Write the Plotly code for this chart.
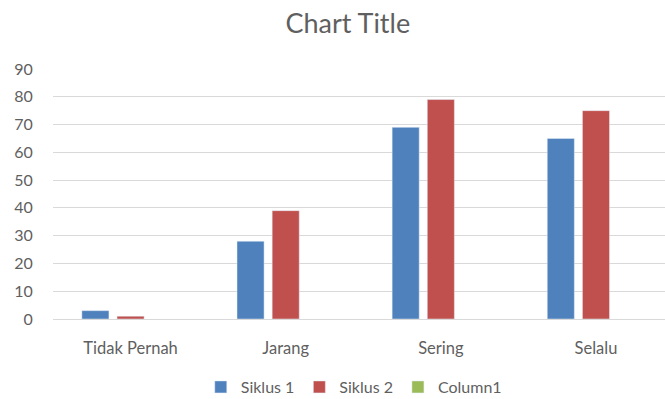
import plotly.graph_objects as go

categories = ["Tidak Pernah", "Jarang", "Sering", "Selalu"]
siklus1 = [3, 28, 69, 65]
siklus2 = [1, 39, 79, 75]
column1 = [None, None, None, None]
y_ticks = [0, 10, 20, 30, 40, 50, 60, 70, 80, 90]

font_family = "Lato, 'Open Sans', sans-serif"
fig = go.Figure()
fig.add_trace(go.Bar(x=categories, y=siklus1, name="Siklus 1", marker_color="#4F81BD"))
fig.add_trace(go.Bar(x=categories, y=siklus2, name="Siklus 2", marker_color="#C0504D"))
fig.add_trace(go.Bar(x=categories, y=column1, name="Column1", marker_color="#9BBB59"))

fig.update_layout(
    width=665, height=399,
    paper_bgcolor="white", plot_bgcolor="white",
    margin=dict(l=53, r=0, t=69, b=80, autoexpand=False),
    title=dict(text="Chart Title", x=0.523, xanchor="center", y=0.942, yanchor="middle",
               font=dict(family=font_family, size=27, color="#5f5f5f")),
    barmode="group", bargap=0.32, bargroupgap=0.23,
    showlegend=True,
    legend=dict(orientation="h", xref="container", yref="container",
                x=0.532, xanchor="center", y=0.03, yanchor="middle",
                font=dict(family=font_family, size=16, color="#5f5f5f"),
                itemwidth=30, traceorder="normal"),
    font=dict(family=font_family, color="#5f5f5f"),
)
fig.update_xaxes(range=[-0.5, 3.445], showgrid=False, showline=False,
                 ticks="outside", ticklen=14, tickcolor="rgba(0,0,0,0)",
                 tickfont=dict(size=16.5, color="#5f5f5f"))
fig.update_yaxes(range=[0, 90], tickvals=y_ticks, showgrid=True, gridcolor="#D9D9D9",
                 gridwidth=1, zeroline=True, zerolinecolor="#D9D9D9", zerolinewidth=1,
                 ticks="outside", ticklen=16, tickcolor="rgba(0,0,0,0)",
                 tickfont=dict(size=16, color="#5f5f5f"))

fig.write_html("out.html")
